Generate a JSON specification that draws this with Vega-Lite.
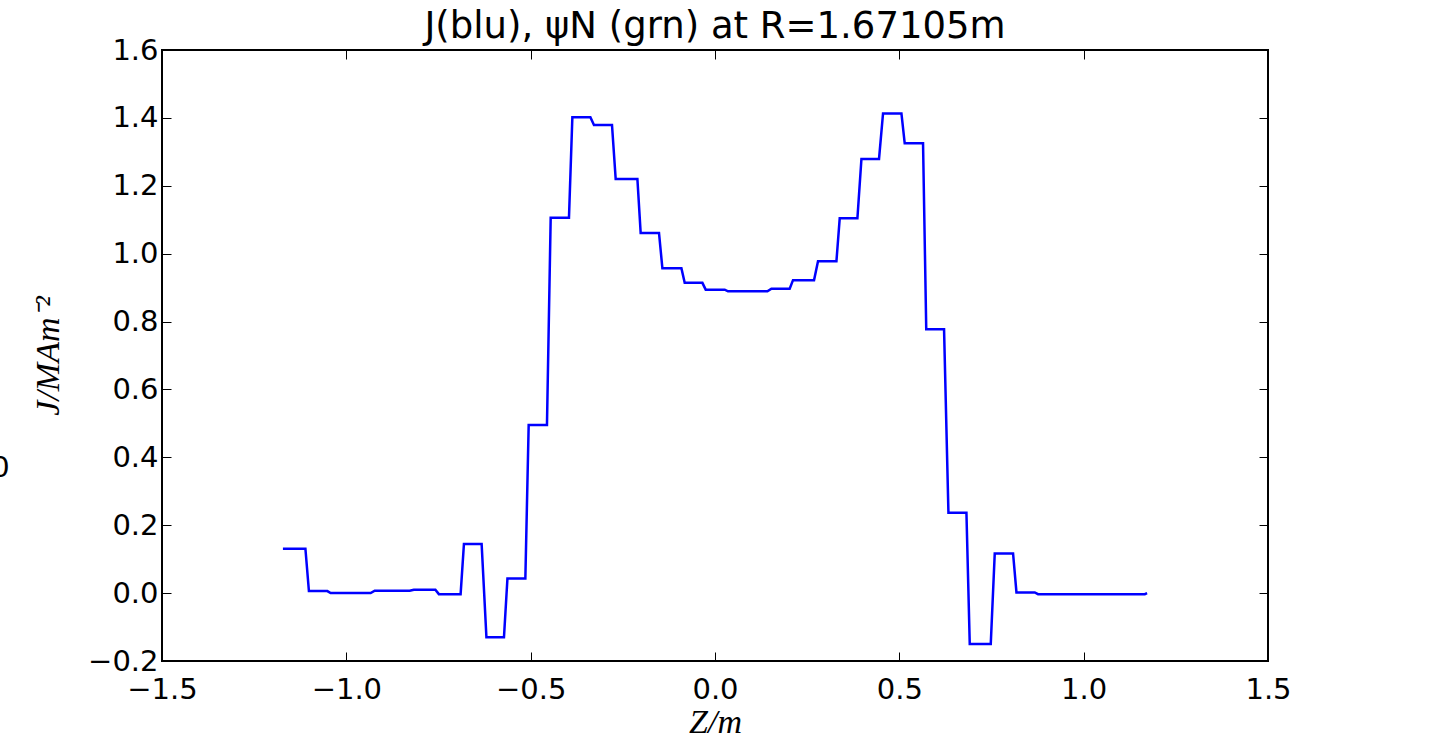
{
  "$schema": "https://vega.github.io/schema/vega-lite/v6.json",
  "width": 1106,
  "height": 611,
  "autosize": {"type": "none"},
  "padding": {"left": 162, "top": 50, "right": 161, "bottom": 86},
  "background": "white",
  "title": {
    "text": "J(blu), ψN (grn) at R=1.67105m",
    "font": "DejaVu Sans",
    "fontSize": 37,
    "fontWeight": "normal",
    "color": "black",
    "anchor": "middle",
    "frame": "group",
    "offset": 3,
    "dy": 13
  },
  "config": {
    "view": {"stroke": "black", "strokeWidth": 2},
    "axis": {
      "grid": false,
      "domain": false,
      "tickColor": "black",
      "tickWidth": 1,
      "tickSize": -9,
      "labelFont": "DejaVu Sans",
      "labelFontSize": 29,
      "labelColor": "black",
      "titleColor": "black",
      "titleFontWeight": "normal"
    }
  },
  "data": {
    "values": [
      {"z": -1.172, "j": 0.131}, {"z": -1.111, "j": 0.131},
      {"z": -1.1015, "j": 0.006}, {"z": -1.0515, "j": 0.006},
      {"z": -1.0426, "j": 0.0}, {"z": -0.934, "j": 0.0},
      {"z": -0.923, "j": 0.007}, {"z": -0.828, "j": 0.007},
      {"z": -0.817, "j": 0.01}, {"z": -0.7585, "j": 0.01},
      {"z": -0.749, "j": -0.003}, {"z": -0.69, "j": -0.003},
      {"z": -0.681, "j": 0.145}, {"z": -0.633, "j": 0.145},
      {"z": -0.62, "j": -0.13}, {"z": -0.5724, "j": -0.13},
      {"z": -0.563, "j": 0.043}, {"z": -0.5144, "j": 0.043},
      {"z": -0.5054, "j": 0.495}, {"z": -0.4558, "j": 0.495},
      {"z": -0.4457, "j": 1.106}, {"z": -0.3961, "j": 1.106},
      {"z": -0.3869, "j": 1.402}, {"z": -0.338, "j": 1.402},
      {"z": -0.3283, "j": 1.379}, {"z": -0.2794, "j": 1.379},
      {"z": -0.2694, "j": 1.22}, {"z": -0.2105, "j": 1.22},
      {"z": -0.2016, "j": 1.061}, {"z": -0.1519, "j": 1.061},
      {"z": -0.1427, "j": 0.957}, {"z": -0.0911, "j": 0.957},
      {"z": -0.0822, "j": 0.914}, {"z": -0.0342, "j": 0.914},
      {"z": -0.0252, "j": 0.894}, {"z": 0.0263, "j": 0.894},
      {"z": 0.0353, "j": 0.889}, {"z": 0.1422, "j": 0.889},
      {"z": 0.153, "j": 0.897}, {"z": 0.2026, "j": 0.897},
      {"z": 0.2116, "j": 0.922}, {"z": 0.2686, "j": 0.922},
      {"z": 0.2794, "j": 0.978}, {"z": 0.3294, "j": 0.978},
      {"z": 0.3383, "j": 1.104}, {"z": 0.3863, "j": 1.104},
      {"z": 0.3972, "j": 1.279}, {"z": 0.4449, "j": 1.279},
      {"z": 0.4558, "j": 1.413}, {"z": 0.5057, "j": 1.413},
      {"z": 0.5146, "j": 1.325}, {"z": 0.5643, "j": 1.325},
      {"z": 0.573, "j": 0.777}, {"z": 0.6213, "j": 0.777},
      {"z": 0.6332, "j": 0.237}, {"z": 0.682, "j": 0.237},
      {"z": 0.691, "j": -0.15}, {"z": 0.748, "j": -0.15},
      {"z": 0.7588, "j": 0.117}, {"z": 0.8085, "j": 0.117},
      {"z": 0.8177, "j": 0.002}, {"z": 0.8673, "j": 0.002},
      {"z": 0.8763, "j": -0.003}, {"z": 1.1658, "j": -0.003},
      {"z": 1.172, "j": 0.0}
    ]
  },
  "layer": [
    {
      "mark": {"type": "line", "color": "#0000ff", "strokeWidth": 2.5, "interpolate": "linear"},
      "encoding": {
        "x": {
          "field": "z", "type": "quantitative",
          "scale": {"domain": [-1.5, 1.5], "nice": false, "zero": false},
          "axis": {
            "orient": "bottom",
            "values": [-1.5, -1.0, -0.5, 0.0, 0.5, 1.0, 1.5],
            "format": ".1f",
            "labelPadding": 23,
            "labelFlush": false,
            "title": "Z/m",
            "titleFont": "Liberation Serif",
            "titleFontStyle": "italic",
            "titleFontSize": 34,
            "titlePadding": 1
          }
        },
        "y": {
          "field": "j", "type": "quantitative",
          "scale": {"domain": [-0.2, 1.6], "nice": false, "zero": false},
          "axis": {
            "orient": "left",
            "values": [-0.2, 0.0, 0.2, 0.4, 0.6, 0.8, 1.0, 1.2, 1.4, 1.6],
            "format": ".1f",
            "labelPadding": 13,
            "labelFlush": false,
            "title": "J/MAm⁻²",
            "titleFont": "Liberation Serif",
            "titleFontStyle": "italic",
            "titleFontSize": 34,
            "titlePadding": 22
          }
        }
      }
    },
    {
      "mark": {"type": "line", "opacity": 0},
      "encoding": {
        "x": {
          "field": "z", "type": "quantitative",
          "axis": {"orient": "top", "values": [-1.5, -1.0, -0.5, 0.0, 0.5, 1.0, 1.5], "labels": false, "title": null}
        },
        "y": {
          "field": "j", "type": "quantitative",
          "axis": {"orient": "right", "values": [-0.2, 0.0, 0.2, 0.4, 0.6, 0.8, 1.0, 1.2, 1.4, 1.6], "labels": false, "title": null}
        }
      }
    },
    {
      "mark": {"type": "line", "opacity": 0},
      "encoding": {
        "x": {"field": "z", "type": "quantitative", "axis": null},
        "y": {
          "field": "j", "type": "quantitative",
          "axis": {
            "orient": "left",
            "labels": false,
            "ticks": false,
            "title": "0",
            "titleFont": "DejaVu Sans",
            "titleFontSize": 29,
            "titleAngle": 0,
            "titleAlign": "center",
            "titleBaseline": "middle",
            "titleX": -162,
            "titleY": 417
          }
        }
      }
    }
  ],
  "resolve": {"axis": {"x": "independent", "y": "independent"}}
}
